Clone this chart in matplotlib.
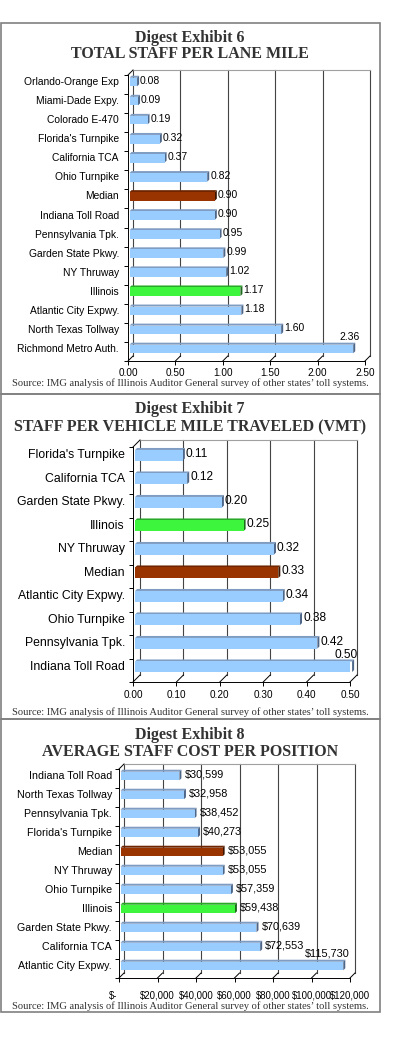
import matplotlib
matplotlib.use("Agg")
import matplotlib.pyplot as plt
import matplotlib.transforms as mtrans
from matplotlib.patches import Rectangle

W, H, DPI = 396, 1063, 100
SANS = ["Liberation Sans", "DejaVu Sans"]
SERIF = ["Liberation Serif", "DejaVu Serif"]

# ---- data ----------------------------------------------------------------
lane_names = ["Orlando-Orange Exp", "Miami-Dade Expy.", "Colorado E-470",
              "Florida's Turnpike", "California TCA", "Ohio Turnpike", "Median",
              "Indiana Toll Road", "Pennsylvania Tpk.", "Garden State Pkwy.",
              "NY Thruway", "Illinois", "Atlantic City Expwy.",
              "North Texas Tollway", "Richmond Metro Auth."]
lane_values = [0.08, 0.09, 0.19, 0.32, 0.37, 0.82, 0.90, 0.90, 0.95, 0.99,
               1.02, 1.17, 1.18, 1.60, 2.36]
lane_ticks = [0.0, 0.5, 1.0, 1.5, 2.0, 2.5]
lane_ticklabels = ["0.00", "0.50", "1.00", "1.50", "2.00", "2.50"]

vmt_names = ["Florida's Turnpike", "California TCA", "Garden State Pkwy.",
             "Illinois", "NY Thruway", "Median", "Atlantic City Expwy.",
             "Ohio Turnpike", "Pennsylvania Tpk.", "Indiana Toll Road"]
vmt_values = [0.11, 0.12, 0.20, 0.25, 0.32, 0.33, 0.34, 0.38, 0.42, 0.50]
vmt_ticks = [0.0, 0.1, 0.2, 0.3, 0.4, 0.5]
vmt_ticklabels = ["0.00", "0.10", "0.20", "0.30", "0.40", "0.50"]

cost_names = ["Indiana Toll Road", "North Texas Tollway", "Pennsylvania Tpk.",
              "Florida's Turnpike", "Median", "NY Thruway", "Ohio Turnpike",
              "Illinois", "Garden State Pkwy.", "California TCA",
              "Atlantic City Expwy."]
cost_values = [30599, 32958, 38452, 40273, 53055, 53055, 57359, 59438,
               70639, 72553, 115730]
cost_ticks = [0, 20000, 40000, 60000, 80000, 100000, 120000]
cost_ticklabels = ["$-", "$20,000", "$40,000", "$60,000", "$80,000",
                   "$100,000", "$120,000"]

source = "Source: IMG analysis of Illinois Auditor General survey of other states\u2019 toll systems."

# face, top, end-cap colours
COLORS = {
    "normal": ("#99CCFF", "#7F9CC2", "#4E6688"),
    "Median": ("#993300", "#6E2500", "#3E1400"),
    "Illinois": ("#3CF53C", "#27A827", "#1A6B1A"),
}


def fy(y):
    return 1 - y / H


def draw_panel(fig, names, values, ticks, ticklabels, fmt, g):
    n = len(names)
    xmax = ticks[-1]
    ax = fig.add_axes([g["x0"] / W, fy(g["ybot"]),
                       (g["x1"] - g["x0"]) / W, (g["ybot"] - g["ytop"]) / H])
    ax.set_xlim(0, xmax)
    ax.set_ylim(n - 0.5, -0.5)
    ax.patch.set_visible(False)
    ux = xmax / (g["x1"] - g["x0"])
    uy = n / (g["ybot"] - g["ytop"])
    d = g["depth"]
    bx, by = d * ux, d * uy

    # back wall + floor
    for t in ticks:
        ax.plot([t + bx, t + bx], [n - 0.5 - by, -0.5 - by], color="#444444",
                lw=0.8, clip_on=False, zorder=1)
        ax.plot([t, t + bx], [n - 0.5, n - 0.5 - by], color="black",
                lw=0.7, clip_on=False, zorder=1)
    ax.plot([bx, xmax + bx], [-0.5 - by, -0.5 - by], color="#A0A0A0",
            lw=0.8, clip_on=False, zorder=1)
    ax.plot([0, bx], [-0.5, -0.5 - by], color="black", lw=0.7,
            clip_on=False, zorder=1)

    # bars
    sx, sy = 0.3 * bx, 0.5 * by
    e = 2.0
    ex, ey = e * ux, e * uy
    h = 0.45
    vmax = max(values)
    for i, (name, v) in enumerate(zip(names, values)):
        face, top, cap = COLORS.get(name, COLORS["normal"])
        c = i - sy
        x0, x1 = sx, v + sx
        yt, yb = c - h / 2, c + h / 2
        ax.fill([x0, x1, x1 + ex, x0 + ex], [yt, yt, yt - ey, yt - ey],
                color=top, lw=0, zorder=3, clip_on=False)
        ax.fill([x1, x1, x1 + ex, x1 + ex], [yt, yb, yb - ey, yt - ey],
                color=cap, lw=0, zorder=3, clip_on=False)
        ax.barh(c, v, height=h, left=sx, color=face, lw=0, zorder=4)
        if v == vmax:
            ax.text(x1 + 6 * ux, c - 12 * uy, fmt(v), ha="right", va="center",
                    fontsize=g["vfs"], family=SANS, zorder=5)
        else:
            ax.text(x1 + ex + g["gap"] * ux, c - 1.5 * uy, fmt(v), ha="left",
                    va="center", fontsize=g["vfs"], family=SANS, zorder=5)

    # category labels
    lab_tr = mtrans.blended_transform_factory(fig.transFigure, ax.transData)
    for i, name in enumerate(names):
        ax.text(g["lab_right"] / W, i - sy, name, transform=lab_tr, ha="right",
                va="center", fontsize=g["lfs"], family=SANS)

    # x tick labels
    tick_tr = mtrans.blended_transform_factory(ax.transData, fig.transFigure)
    for t, lab in zip(ticks, ticklabels):
        xt = t - g.get("zero_dx", 0) * ux if t == 0 else t
        ax.text(xt, fy(g["ytick"]), lab, transform=tick_tr, ha="center",
                va="center", fontsize=g["tfs"], family=SANS)

    ax.set_xticks(ticks)
    ax.set_yticks([])
    ax.set_yticks([i - 0.5 for i in range(n + 1)], minor=True)
    ax.tick_params(axis="x", direction="out", length=3, width=0.7,
                   labelbottom=False)
    ax.tick_params(axis="y", which="minor", direction="out", length=3,
                   width=0.7)
    for s in ["top", "right"]:
        ax.spines[s].set_visible(False)
    for s in ["left", "bottom"]:
        ax.spines[s].set_linewidth(0.7)

    # titles, source, frame
    for ty, line in zip(g["title_y"], g["title"]):
        fig.text(190 / W, fy(ty), line, ha="center", va="center",
                 fontsize=11.5, fontweight="bold", family=SERIF,
                 color="#333333")
    fig.text(190 / W, fy(g["src_y"]), source, ha="center", va="center",
             fontsize=7.6, family=SERIF, color="#333333")
    fig.add_artist(Rectangle((1 / W, fy(g["box"][1])), 379 / W,
                             (g["box"][1] - g["box"][0]) / H,
                             transform=fig.transFigure, fill=False,
                             ec="#808080", lw=1.2))


fig = plt.figure(figsize=(W / DPI, H / DPI), dpi=DPI)
fig.patch.set_facecolor("white")

draw_panel(fig, lane_names, lane_values, lane_ticks, lane_ticklabels,
           lambda v: f"{v:.2f}",
           dict(x0=128, x1=365, ytop=75, ybot=361, depth=5, lab_right=119,
                lfs=7.4, vfs=7.5, tfs=7.2, gap=1, ytick=373,
                title=["Digest Exhibit 6", "TOTAL STAFF PER LANE MILE"],
                title_y=[38, 54], src_y=383, box=(23, 394)))

draw_panel(fig, vmt_names, vmt_values, vmt_ticks, vmt_ticklabels,
           lambda v: f"{v:.2f}",
           dict(x0=133, x1=350, ytop=447, ybot=682, depth=7, lab_right=125,
                lfs=8.8, vfs=8.6, tfs=7.2, gap=1, ytick=695,
                title=["Digest Exhibit 7",
                       "STAFF PER VEHICLE MILE TRAVELED (VMT)"],
                title_y=[409, 427], src_y=712, box=(394, 719)))

draw_panel(fig, cost_names, cost_values, cost_ticks, cost_ticklabels,
           lambda v: f"${v:,.0f}",
           dict(x0=119, x1=350, ytop=769, ybot=978, depth=5, lab_right=112,
                lfs=7.7, vfs=7.8, tfs=6.9, gap=3, ytick=996, zero_dx=6,
                title=["Digest Exhibit 8", "AVERAGE STAFF COST PER POSITION"],
                title_y=[735, 752], src_y=1006, box=(719, 1012)))

fig.savefig("out.png", dpi=DPI, facecolor="white")
